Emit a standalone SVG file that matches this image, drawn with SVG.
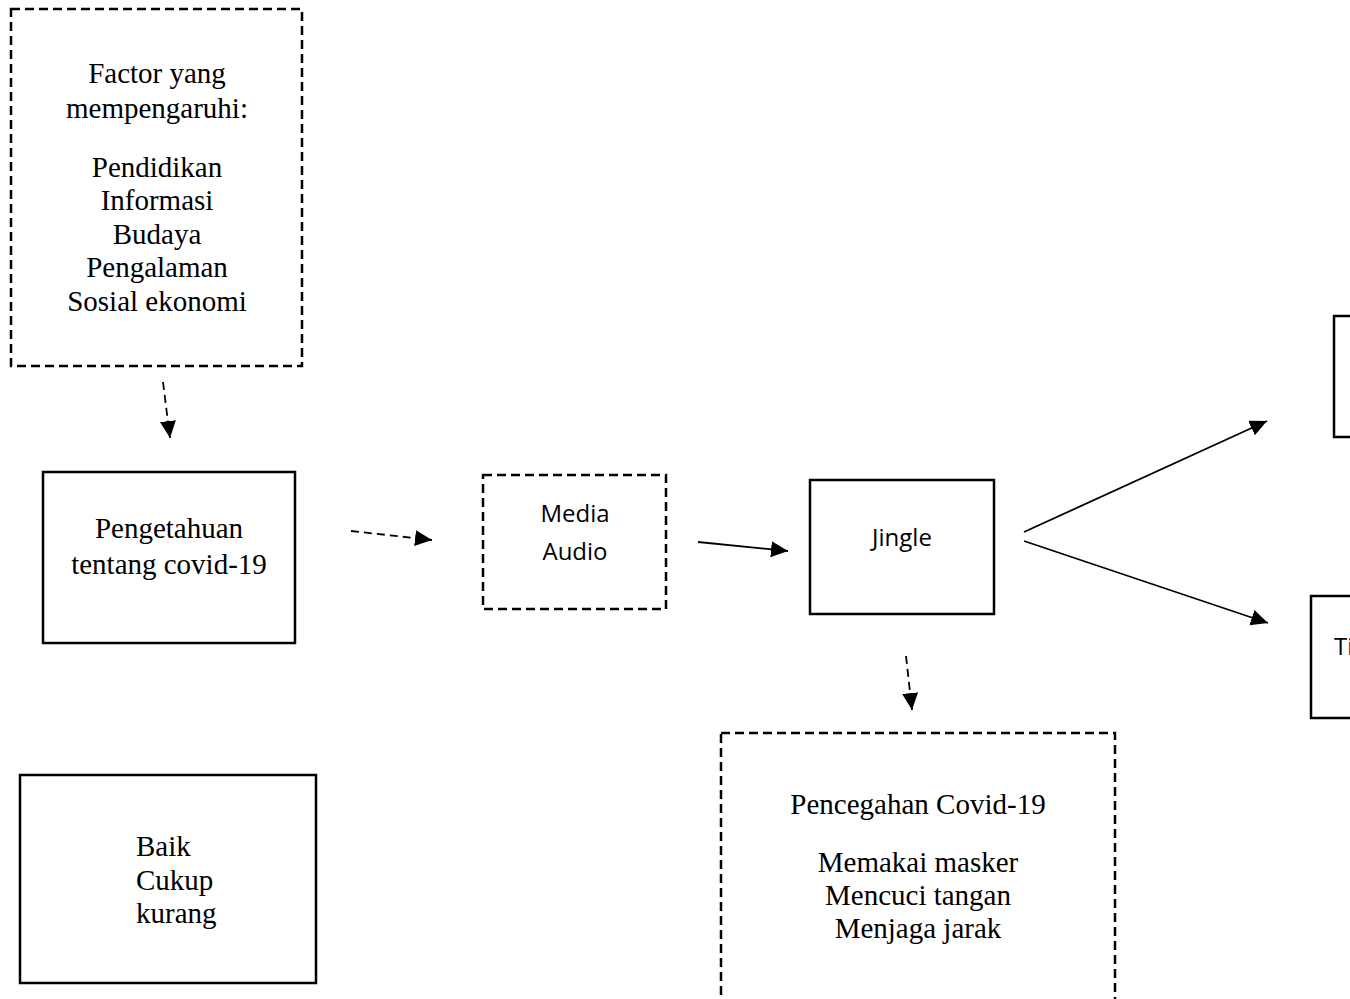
<svg xmlns="http://www.w3.org/2000/svg" width="1350" height="999" viewBox="0 0 1350 999">
<style>
.box{fill:#fff;stroke:#000;stroke-width:2.5}
.dash{stroke-dasharray:9 5}
.serif{font-family:"Liberation Serif","Times New Roman",serif;font-size:29px;fill:#000}
.sans{font-family:"Open Sans","Noto Sans",sans-serif;font-size:24px;fill:#000}
.c{text-anchor:middle}
.ln{stroke:#000;stroke-width:1.8;fill:none}
.dl{stroke-dasharray:8 5}
</style>
<defs>
<marker id="ah" markerUnits="userSpaceOnUse" markerWidth="20" markerHeight="18" refX="17" refY="8" orient="auto">
<path d="M0,0 L17,8 L0,16 Z" fill="#000"/>
</marker>
</defs>
<rect width="1350" height="999" fill="#fff"/>
<g id="connectors">
<line class="ln dl" x1="163" y1="382" x2="170" y2="438" marker-end="url(#ah)"/>
<line class="ln dl" x1="351" y1="531" x2="432" y2="540" marker-end="url(#ah)"/>
<line class="ln" x1="698" y1="542" x2="788" y2="551" marker-end="url(#ah)"/>
<line class="ln" x1="1024" y1="532" x2="1267" y2="421" marker-end="url(#ah)"/>
<line class="ln" x1="1024" y1="541" x2="1268" y2="623" marker-end="url(#ah)"/>
<line class="ln dl" x1="906" y1="656" x2="912" y2="710" marker-end="url(#ah)"/>
</g>
<g id="factor">
<rect class="box dash" x="11" y="9" width="291" height="357"/>
<text class="serif c" x="157" y="83">Factor yang</text>
<text class="serif c" x="157" y="118">mempengaruhi:</text>
<text class="serif c" x="157" y="177">Pendidikan</text>
<text class="serif c" x="157" y="210">Informasi</text>
<text class="serif c" x="157" y="244">Budaya</text>
<text class="serif c" x="157" y="277">Pengalaman</text>
<text class="serif c" x="157" y="311">Sosial ekonomi</text>
</g>
<g id="pengetahuan">
<rect class="box" x="43" y="472" width="252" height="171"/>
<text class="serif c" x="169" y="538">Pengetahuan</text>
<text class="serif c" x="169" y="574">tentang covid-19</text>
</g>
<g id="media">
<rect class="box dash" x="483" y="475" width="183" height="134"/>
<text class="sans c" x="575" y="522">Media</text>
<text class="sans c" x="575" y="560">Audio</text>
</g>
<g id="jingle">
<rect class="box" x="810" y="480" width="184" height="134"/>
<text class="sans c" x="902" y="546">Jingle</text>
</g>
<g id="right-top">
<rect class="box" x="1334" y="316" width="40" height="121"/>
</g>
<g id="right-bottom">
<rect class="box" x="1311" y="596" width="60" height="122"/>
<text class="sans" x="1334" y="655">Ti</text>
</g>
<g id="pencegahan">
<rect class="box dash" x="721" y="733" width="394" height="290"/>
<text class="serif c" x="918" y="814">Pencegahan Covid-19</text>
<text class="serif c" x="918" y="872">Memakai masker</text>
<text class="serif c" x="918" y="905">Mencuci tangan</text>
<text class="serif c" x="918" y="938">Menjaga jarak</text>
</g>
<g id="baik">
<rect class="box" x="20" y="775" width="296" height="208"/>
<text class="serif" x="136" y="856">Baik</text>
<text class="serif" x="136" y="890">Cukup</text>
<text class="serif" x="136" y="923">kurang</text>
</g>
</svg>
